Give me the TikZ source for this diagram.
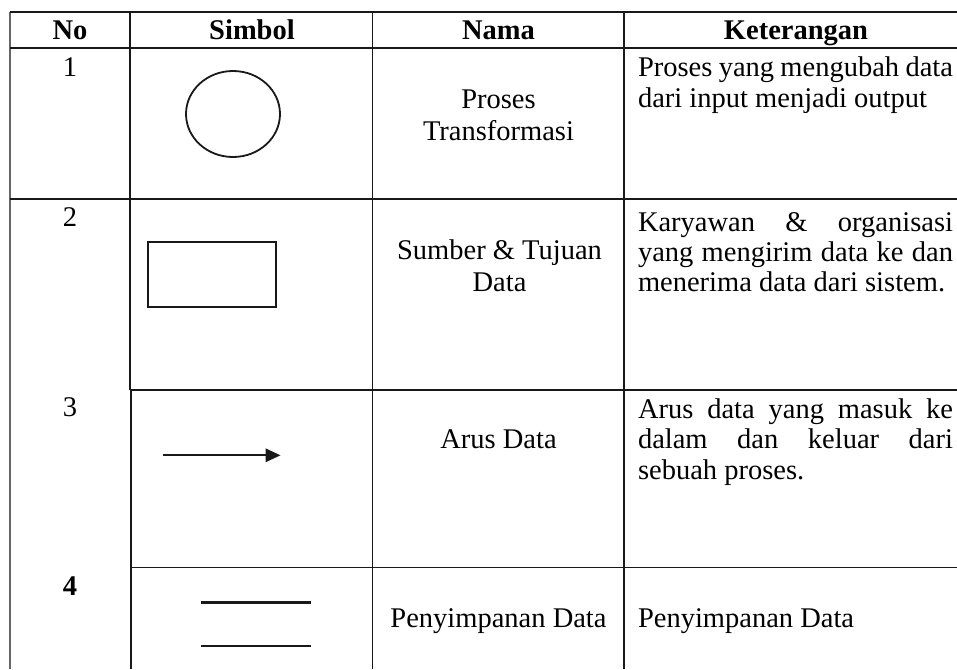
\documentclass[tikz,border=0pt]{standalone}
\usepackage{fontspec}
\setmainfont{Liberation Serif}
\usetikzlibrary{arrows.meta,shapes.geometric}
\tikzset{
  grid/.style={line width=1.4pt, black!90},
  thickgrid/.style={line width=1.9pt, black!90},
  outer/.style={line width=1.1pt, black!60},
  symb/.style={line width=1.8pt, black!90},
  cell/.style={inner sep=0pt, outer sep=0pt, font=\fontsize{28.5}{30.5}\selectfont},
  head/.style={cell, font=\fontsize{28.5}{30.5}\selectfont\bfseries},
}
\newcommand{\jline}[1]{\makebox[315pt][s]{#1}}
\begin{document}
\begin{tikzpicture}[x=1pt, y=-1pt]
\useasboundingbox (0,0) rectangle (957,669);

% table rules
\draw[outer] (10,12) -- (10,669);
\draw[grid] (10,12) -- (957,12);
\draw[grid] (10,48) -- (957,48);
\draw[grid] (10,199) -- (957,199);
\draw[grid] (131,390) -- (957,390);
\draw[grid] (131,567.5) -- (957,567.5);
\draw[grid] (130,12) -- (130,390);
\draw[thickgrid] (131.2,390) -- (131.2,669);
\draw[thickgrid] (372.5,12) -- (372.5,669);
\draw[thickgrid] (624,12) -- (624,669);

% header
\node[head, anchor=base] (hNo)  at (70,40)  {No};
\node[head, anchor=base] (hSim) at (252,40) {Simbol};
\node[head, anchor=base] (hNam) at (498.5,40) {Nama};
\node[head, anchor=base] (hKet) at (796,40) {Keterangan};

% numbers
\node[cell, anchor=base] (n1) at (70,76)  {1};
\node[cell, anchor=base] (n2) at (70,226.5) {2};
\node[cell, anchor=base] (n3) at (70,416.5) {3};
\node[head, anchor=base] (n4) at (70,595) {4};

% symbols
\node[symb, draw, ellipse, minimum width=94pt, minimum height=86pt, inner sep=0pt] (sProc) at (233,114) {};
\draw[symb] (148,241.7) rectangle (275.7,307.3);
\coordinate (arS) at (163,455.3);
\coordinate (arE) at (280.5,455.3);
\draw[symb, -{Triangle[length=15pt,width=13.5pt]}] (arS) -- (arE);
\coordinate (st1a) at (201,602.7);
\coordinate (st1b) at (310.5,602.7);
\coordinate (st2a) at (201,646);
\coordinate (st2b) at (310.5,646);
\draw[line width=2.6pt, black!90] (st1a) -- (st1b);
\draw[line width=2.6pt, black!90] (st2a) -- (st2b);

% names
\node[cell, anchor=base] (m1a) at (498.5,108.3) {Proses};
\node[cell, anchor=base] (m1b) at (498.5,140) {Transformasi};
\node[cell, anchor=base] (m2a) at (499.5,259.3) {Sumber \& Tujuan};
\node[cell, anchor=base] (m2b) at (499.5,291.7) {Data};
\node[cell, anchor=base] (m3)  at (498.5,448.3) {Arus Data};
\node[cell, anchor=base] (m4)  at (498.5,627.3) {Penyimpanan Data};

% descriptions
\node[cell, anchor=base west] (k1a) at (638,76.7)  {\jline{Proses yang mengubah data}};
\node[cell, anchor=base west] (k1b) at (638,107.5) {dari input menjadi output};
\node[cell, anchor=base west] (k2a) at (638,231)   {\jline{Karyawan \& organisasi}};
\node[cell, anchor=base west] (k2b) at (638,261.5) {\jline{yang mengirim data ke dan}};
\node[cell, anchor=base west] (k2c) at (638,291.7) {menerima data dari sistem.};
\node[cell, anchor=base west] (k3a) at (638,418.5) {\jline{Arus data yang masuk ke}};
\node[cell, anchor=base west] (k3b) at (638,448.5) {\jline{dalam dan keluar dari}};
\node[cell, anchor=base west] (k3c) at (638,479.5) {sebuah proses.};
\node[cell, anchor=base west] (k4)  at (638,627.3) {Penyimpanan Data};
\end{tikzpicture}
\end{document}
